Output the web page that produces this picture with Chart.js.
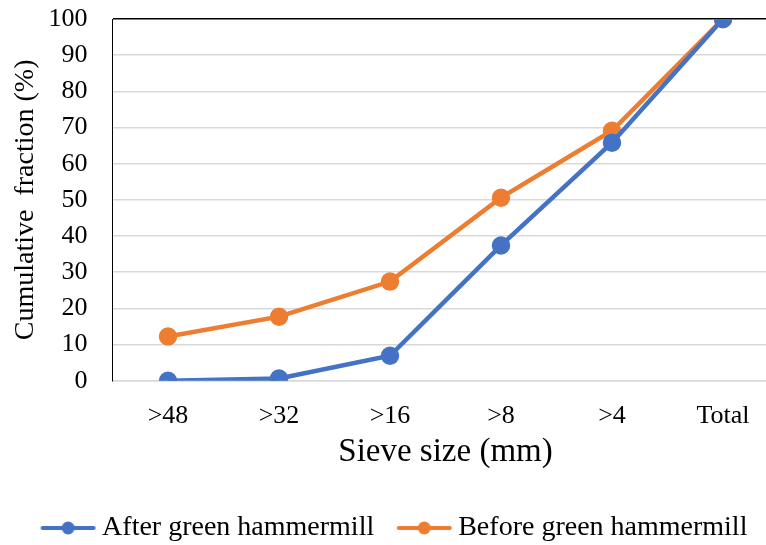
<!DOCTYPE html>
<html>
<head>
<meta charset="utf-8">
<script src="https://cdn.jsdelivr.net/npm/chart.js@4"></script>
<style>
html,body{margin:0;padding:0;background:#fff;overflow:hidden;}
#wrap{width:790px;height:552px;position:relative;}
#c{display:block;width:790px;height:552px;}
</style>
</head>
<body>
<div id="wrap"><canvas id="c" width="790" height="552"></canvas></div>
<script>
const categories = ['>48', '>32', '>16', '>8', '>4', 'Total'];
const afterValues = [0, 0.6, 6.9, 37.4, 65.8, 100];
const beforeValues = [12.2, 17.7, 27.4, 50.6, 69.1, 100];
const yTicks = [0, 10, 20, 30, 40, 50, 60, 70, 80, 90, 100];

const FONT = "'Liberation Serif', 'Times New Roman', serif";

function legendIcon(color) {
  const c = document.createElement('canvas');
  c.width = 57; c.height = 16;
  const g = c.getContext('2d');
  g.strokeStyle = color; g.lineWidth = 4; g.lineCap = 'round';
  g.beginPath(); g.moveTo(3, 8); g.lineTo(54, 8); g.stroke();
  g.fillStyle = color;
  g.beginPath(); g.arc(28.5, 8, 6.5, 0, Math.PI * 2); g.fill();
  return c;
}

const chart = new Chart(document.getElementById('c'), {
  type: 'line',
  data: {
    labels: categories,
    datasets: [
      {
        label: 'After green hammermill',
        data: afterValues,
        borderColor: '#4472c4',
        backgroundColor: '#4472c4',
        borderWidth: 4.5,
        pointRadius: 7,
        pointHoverRadius: 7,
        pointStyle: 'circle',
        tension: 0,
        legendIcon: legendIcon('#4472c4')
      },
      {
        label: 'Before green hammermill',
        data: beforeValues,
        borderColor: '#ed7d31',
        backgroundColor: '#ed7d31',
        borderWidth: 4.5,
        pointRadius: 7,
        pointHoverRadius: 7,
        pointStyle: 'circle',
        tension: 0,
        legendIcon: legendIcon('#ed7d31')
      }
    ]
  },
  options: {
    responsive: false,
    animation: false,
    devicePixelRatio: 1,
    layout: { padding: { top: 19, right: 11.5, bottom: 0, left: 17 } },
    plugins: {
      tooltip: { enabled: false },
      legend: {
        position: 'bottom',
        labels: {
          usePointStyle: true,
          pointStyleWidth: 40,
          boxHeight: 16,
          padding: 30,
          color: '#000',
          font: { family: FONT, size: 28 },
          generateLabels(chart) {
            return chart.data.datasets.map((ds, i) => ({
              text: ds.label,
              fillStyle: ds.borderColor,
              strokeStyle: ds.borderColor,
              lineWidth: 0,
              pointStyle: ds.legendIcon,
              hidden: false,
              datasetIndex: i,
              fontColor: '#000'
            }));
          }
        }
      }
    },
    scales: {
      x: {
        offset: true,
        afterFit(scale) { scale.paddingLeft = 0; scale.paddingRight = 0; scale.height = 103.3; },
        grid: { display: false, drawTicks: false },
        border: { color: '#d9d9d9', width: 1.5 },
        ticks: { color: '#000', padding: 20, font: { family: FONT, size: 26 }, maxRotation: 0 },
        title: { display: true, text: 'Sieve size (mm)', color: '#000', font: { family: FONT, size: 33 }, padding: { top: 1, bottom: 11.5 } }
      },
      y: {
        min: 0, max: 100,
        afterBuildTicks(scale) { scale.ticks = yTicks.map(v => ({ value: v })); },
        afterFit(scale) { scale.width = 95.5; scale.paddingTop = 0; scale.paddingBottom = 0; },
        grid: {
          drawTicks: false,
          color: ctx => (ctx.tick && ctx.tick.value === 100) ? '#000' : '#d9d9d9',
          lineWidth: 1.5
        },
        border: { color: '#000', width: 1 },
        ticks: { color: '#000', padding: 25, autoSkip: false, font: { family: FONT, size: 26 } },
        title: { display: true, text: 'Cumulative  fraction (%)', color: '#000', font: { family: FONT, size: 28 }, padding: { top: -8, bottom: 4 } }
      }
    }
  }
});
</script>
</body>
</html>
